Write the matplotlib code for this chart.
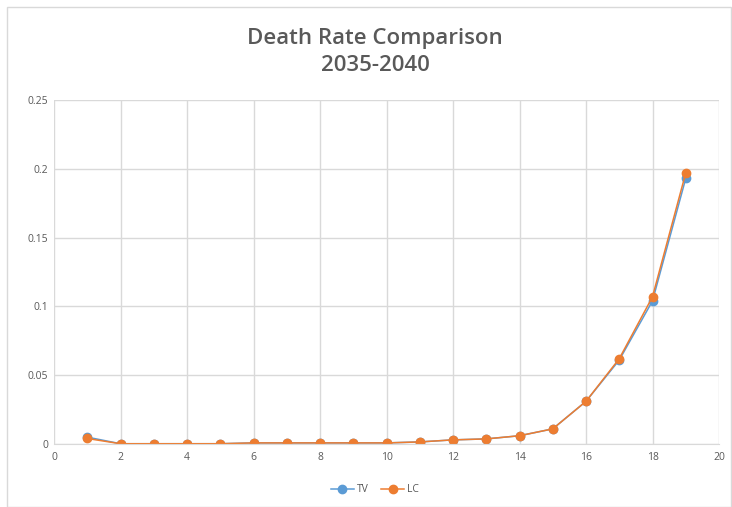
import matplotlib
matplotlib.use("Agg")
import matplotlib.pyplot as plt
from matplotlib.patches import Rectangle

x = list(range(1, 20))
tv = [0.005, 0.0002, 0.0002, 0.0002, 0.0002, 0.0008, 0.0008, 0.0008, 0.0008, 0.0008,
      0.0015, 0.003, 0.0037, 0.006, 0.011, 0.031, 0.061, 0.104, 0.193]
lc = [0.004, 0.0002, 0.0002, 0.0002, 0.0002, 0.0008, 0.0008, 0.0008, 0.0008, 0.0008,
      0.0015, 0.003, 0.0037, 0.006, 0.011, 0.031, 0.062, 0.107, 0.197]
title = "Death Rate Comparison\n2035-2040"
xticks = [0, 2, 4, 6, 8, 10, 12, 14, 16, 18, 20]
yticks = [0, 0.05, 0.1, 0.15, 0.2, 0.25]
ytick_labels = ["0", "0.05", "0.1", "0.15", "0.2", "0.25"]

plt.rcParams['font.family'] = ['Open Sans', 'DejaVu Sans']
fig = plt.figure(figsize=(7.32, 5.07), dpi=100)
fig.patches.append(Rectangle((7/732, 0), 724/732, 500/507, transform=fig.transFigure,
                             fill=False, edgecolor='#d9d9d9', linewidth=1))
ax = fig.add_axes([54/732, 63/507, 665/732, 344/507])
ax.plot(x, tv, color='#5B9BD5', marker='o', markersize=6, linewidth=1.1, label='TV')
ax.plot(x, lc, color='#ED7D31', marker='o', markersize=6, linewidth=1.1, alpha=1.0,
        label='LC')
ax.set_xlim(0, 20)
ax.set_ylim(0, 0.25)
ax.set_xticks(xticks)
ax.set_yticks(yticks)
ax.set_yticklabels(ytick_labels)
ax.grid(True, color='#d9d9d9', linewidth=1)
ax.set_axisbelow(True)
for s in ['top', 'right', 'left']:
    ax.spines[s].set_visible(False)
ax.spines['bottom'].set_color('#d9d9d9')
ax.tick_params(axis='x', length=0, labelsize=7.5, colors='#595959', pad=6)
ax.tick_params(axis='y', length=0, labelsize=7.5, colors='#595959', pad=4)
fig.text(375/732, 1 - 52/507, title, ha='center', va='center', fontsize=16,
         fontweight='semibold', color='#595959', linespacing=1.4)
fig.legend(loc='center', bbox_to_anchor=(375/732, 1 - 490/507), ncol=2, frameon=False,
           fontsize=7.5, labelcolor='#595959', handlelength=2.2, columnspacing=1.2,
           handletextpad=0.3)
fig.savefig('out.png', dpi=100)
